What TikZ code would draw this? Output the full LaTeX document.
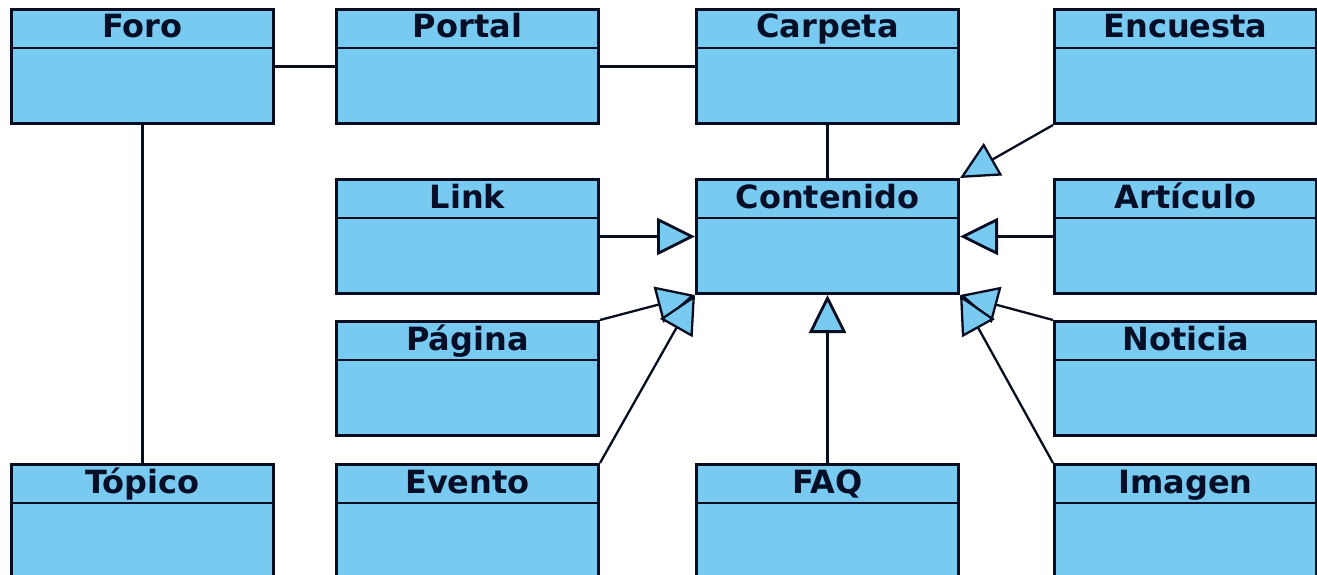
\documentclass[tikz,border=0pt]{standalone}
\usepackage{fontspec}
\newfontfamily\clsfont{DejaVu Sans}
\usetikzlibrary{arrows.meta}
\definecolor{clsfill}{RGB}{120,202,240}
\definecolor{clsline}{RGB}{8,14,32}
\definecolor{clstext}{RGB}{4,14,38}

% one UML class: name, x, y (top-left corner), title
\newcommand\umlclass[4]{%
  \node[cls] (#1) at (#2,#3) {};
  \draw[assoc] ([yshift=-40pt]#1.north west) -- ([yshift=-40pt]#1.north east);
  \node[clstitle] at ([yshift=-30pt]#1.north) {#4};
}

\begin{document}
\begin{tikzpicture}[x=1pt,y=-1pt,
  cls/.style={draw=clsline, fill=clsfill, line width=3pt, rectangle,
    inner sep=0pt, minimum width=262pt, minimum height=114pt, anchor=north west},
  clstitle/.style={anchor=base, text=clstext, inner sep=0pt,
    font=\clsfont\bfseries\fontsize{32}{36}\selectfont},
  assoc/.style={draw=clsline, line width=2.8pt},
  gen/.style={draw=clsline, line width=2.8pt,
    -{Triangle[length=38pt, width=37pt, fill=clsfill]}},
  gendiag/.style={gen, line width=2.3pt},
]
\useasboundingbox (0,0) rectangle (1317,575);
\clip (0,0) rectangle (1317,575);
\fill[white] (0,0) rectangle (1317,575);

% classes
\umlclass{foro}{10}{8}{Foro}
\umlclass{portal}{335}{8}{Portal}
\umlclass{carpeta}{695}{8}{Carpeta}
\umlclass{encuesta}{1053}{8}{Encuesta}

\umlclass{link}{335}{178}{Link}
\umlclass{contenido}{695}{178}{Contenido}
\umlclass{articulo}{1053}{178}{Artículo}

\umlclass{pagina}{335}{320}{Página}
\umlclass{noticia}{1053}{320}{Noticia}

\umlclass{topico}{10}{463}{Tópico}
\umlclass{evento}{335}{463}{Evento}
\umlclass{faq}{695}{463}{FAQ}
\umlclass{imagen}{1053}{463}{Imagen}

% associations
\draw[assoc] (foro.east) -- (portal.west);
\draw[assoc] (portal.east) -- (carpeta.west);
\draw[assoc] (foro.south) -- (topico.north);
\draw[assoc] (carpeta.south) -- (contenido.north);

% generalizations
\draw[gen] (link.east) -- (contenido.west);
\draw[gen] (articulo.west) -- (contenido.east);
\draw[gen] (faq.north) -- (contenido.south);
\draw[gendiag] (encuesta.south west) -- (contenido.north east);
\draw[gendiag] (pagina.north east) -- (contenido.south west);
\draw[gendiag] (evento.north east) -- (contenido.south west);
\draw[gendiag] (noticia.north west) -- (contenido.south east);
\draw[gendiag] (imagen.north west) -- (contenido.south east);
\end{tikzpicture}
\end{document}
